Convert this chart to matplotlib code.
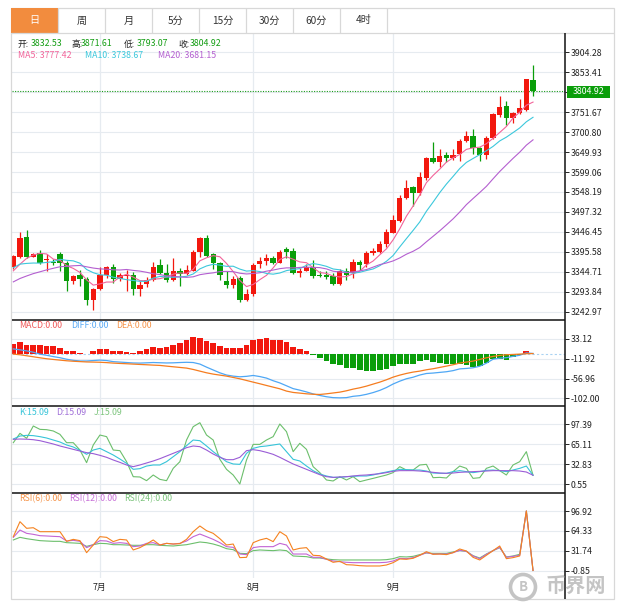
import matplotlib
matplotlib.use("Agg")
import matplotlib.pyplot as plt
from matplotlib.patches import Rectangle, Ellipse
from matplotlib.lines import Line2D
import numpy as np
import pandas as pd

plt.rcParams['font.family'] = ['Noto Sans CJK SC', 'DejaVu Sans']

W, H = 618, 613

# ---------------- data ----------------
tabs = ["日", "周", "月", "5分", "15分", "30分", "60分", "4时"]
month_pos = [13, 36, 57]
month_labels = ["7月", "8月", "9月"]

opens = [3355.7, 3383.6, 3433.7, 3383.6, 3392.3, 3375.5, 3370.9, 3389.7, 3368.4, 3321.8,
         3335.3, 3326.9, 3273.5, 3301.5, 3337.1, 3356.6, 3326.1, 3333.0, 3337.1, 3300.7,
         3313.4, 3322.6, 3362.5, 3342.9, 3322.6, 3347.3, 3339.6, 3348.0, 3396.3, 3432.0,
         3389.7, 3367.0, 3320.0, 3311.6, 3328.7, 3273.5, 3288.7, 3364.3, 3373.5, 3381.1,
         3368.4, 3403.2, 3398.1, 3341.4, 3348.0, 3356.6, 3337.1, 3337.1, 3334.5, 3313.4,
         3348.0, 3341.4, 3369.6, 3365.0, 3392.3, 3396.3, 3415.9, 3444.6, 3474.4, 3532.2,
         3561.7, 3544.9, 3583.0, 3635.4, 3623.7, 3642.3, 3633.9, 3644.1, 3678.7, 3690.6,
         3659.3, 3642.3, 3686.3, 3744.0, 3766.9, 3737.2, 3749.9, 3756.8, 3832.53]
highs = [3388.0, 3447.2, 3451.5, 3393.0, 3400.7, 3389.7, 3377.8, 3396.3, 3371.4, 3335.8,
         3349.8, 3332.0, 3304.0, 3358.2, 3360.7, 3364.3, 3342.9, 3349.8, 3344.7, 3320.0,
         3330.2, 3370.9, 3377.0, 3365.0, 3379.5, 3354.1, 3362.5, 3400.7, 3434.5, 3438.8,
         3392.3, 3370.9, 3345.5, 3332.8, 3332.8, 3301.5, 3366.8, 3383.6, 3390.5, 3385.4,
         3400.7, 3407.5, 3404.9, 3354.1, 3365.0, 3375.2, 3348.0, 3345.5, 3341.4, 3351.6,
         3354.1, 3377.8, 3375.2, 3398.1, 3404.9, 3423.6, 3453.3, 3489.7, 3540.6, 3578.7,
         3564.7, 3599.8, 3638.0, 3674.6, 3656.8, 3650.7, 3656.8, 3683.0, 3703.3, 3708.4,
         3663.4, 3690.6, 3748.4, 3793.1, 3779.7, 3753.0, 3784.7, 3837.4, 3871.61]
lows = [3352.0, 3381.0, 3380.3, 3381.6, 3364.3, 3348.0, 3362.5, 3347.0, 3294.6, 3313.4,
        3309.1, 3260.8, 3248.0, 3299.0, 3328.7, 3316.0, 3321.8, 3297.0, 3286.0, 3282.0,
        3307.0, 3321.8, 3338.9, 3318.5, 3320.5, 3309.1, 3337.1, 3345.5, 3383.6, 3382.9,
        3352.3, 3324.3, 3303.0, 3304.0, 3267.6, 3269.3, 3282.0, 3354.1, 3362.5, 3365.0,
        3366.3, 3379.5, 3339.6, 3330.2, 3345.5, 3328.7, 3330.2, 3326.1, 3311.6, 3311.6,
        3324.3, 3329.4, 3349.8, 3358.2, 3388.0, 3392.3, 3409.0, 3442.6, 3471.9, 3529.1,
        3512.6, 3541.8, 3580.0, 3623.0, 3612.5, 3625.3, 3629.6, 3627.0, 3675.4, 3644.8,
        3627.0, 3632.0, 3684.3, 3739.7, 3718.6, 3723.0, 3745.8, 3755.5, 3793.07]
closes = [3385.4, 3432.0, 3383.6, 3389.7, 3368.4, 3377.0, 3366.8, 3368.4, 3321.8, 3332.8,
          3326.1, 3271.7, 3301.5, 3337.1, 3356.6, 3326.1, 3337.1, 3335.8, 3300.7, 3311.6,
          3324.3, 3356.6, 3342.9, 3322.6, 3347.3, 3339.6, 3349.8, 3396.3, 3430.4, 3386.2,
          3367.0, 3335.3, 3311.6, 3326.1, 3273.5, 3288.7, 3362.5, 3372.7, 3381.1, 3368.4,
          3396.3, 3396.3, 3341.4, 3347.3, 3358.2, 3332.8, 3334.5, 3330.2, 3313.4, 3347.3,
          3337.1, 3370.9, 3362.5, 3392.3, 3398.1, 3415.9, 3447.2, 3477.0, 3533.7, 3559.1,
          3544.9, 3587.1, 3635.4, 3625.3, 3639.7, 3633.9, 3642.3, 3677.9, 3690.6, 3659.3,
          3642.3, 3686.3, 3746.6, 3765.1, 3735.6, 3749.9, 3761.1, 3835.6, 3804.92]
# closes before the visible window (estimated from where the MA lines start)
prior_closes = [3260, 3255, 3270, 3275, 3280, 3285, 3290, 3300, 3305, 3310,
                3340, 3365, 3380, 3370, 3360, 3347, 3309, 3347, 3347]

macd_hist = [20.8, 26.0, 20.0, 20.0, 18.5, 17.0, 16.2, 11.6, 4.8, 4.8,
             1.8, -2.1, 4.8, 9.3, 9.3, 5.5, 6.3, 4.0, 1.8, 4.8,
             9.3, 13.9, 12.3, 13.9, 18.5, 23.0, 29.9, 36.7, 35.9, 28.4,
             23.0, 16.2, 13.1, 13.1, 11.6, 20.0, 31.4, 33.7, 34.4, 31.4,
             31.4, 26.0, 14.7, 10.8, 4.8, -4.3, -10.4, -17.2, -24.9, -27.1,
             -32.5, -33.2, -37.8, -39.3, -40.8, -37.0, -34.8, -28.6, -24.9, -23.4,
             -24.9, -17.2, -15.8, -19.5, -21.8, -24.9, -24.9, -23.4, -27.1, -30.9,
             -28.6, -21.1, -11.9, -11.9, -14.2, -8.8, -4.3, 4.8, 0.0]
diff = [10.5, 8.5, 6.0, 3.0, -1.5, -4.0, -7.0, -9.5, -13.0, -15.5,
        -17.0, -17.0, -16.0, -15.0, -16.0, -18.5, -19.5, -20.5, -21.5, -21.8,
        -21.2, -20.5, -21.0, -21.5, -21.2, -20.5, -20.0, -20.5, -24.0, -31.0,
        -37.5, -44.0, -49.0, -51.5, -53.0, -52.0, -50.0, -52.5, -56.0, -62.0,
        -67.0, -73.5, -80.0, -83.5, -87.5, -92.0, -95.5, -98.5, -100.5, -101.0,
        -100.5, -97.5, -96.0, -93.0, -89.0, -84.0, -77.5, -69.5, -63.0, -57.5,
        -54.0, -49.0, -45.5, -44.5, -43.0, -41.5, -39.0, -35.0, -34.0, -32.5,
        -29.0, -22.0, -13.0, -10.5, -9.5, -6.5, -4.0, 1.5, 0.0]
dea = [-1.3, -2.8, -5.1, -7.4, -9.7, -11.9, -13.5, -15.0, -16.5, -17.6,
       -18.4, -19.2, -19.5, -19.9, -20.7, -21.8, -22.6, -23.3, -24.1, -24.9,
       -25.6, -26.4, -27.1, -28.7, -30.2, -31.7, -33.2, -36.3, -40.1, -43.9,
       -46.9, -49.2, -51.5, -54.5, -57.6, -61.4, -65.2, -68.9, -72.8, -76.6,
       -80.4, -85.6, -88.7, -90.2, -91.8, -92.9, -93.3, -91.8, -89.9, -88.0,
       -84.9, -81.1, -78.1, -74.3, -69.7, -65.2, -59.8, -53.8, -49.2, -45.4,
       -42.3, -40.1, -37.0, -34.7, -31.7, -28.7, -25.6, -21.8, -19.5, -17.3,
       -13.5, -9.7, -6.6, -4.3, -2.8, -2.1, -1.3, -0.5, 0.0]

k_line = [73.3, 78.1, 79.2, 78.7, 77.1, 74.9, 71.7, 68.5, 63.7, 60.5,
          55.1, 48.7, 55.6, 58.3, 53.0, 47.6, 41.2, 34.2, 24.6, 25.7,
          29.9, 31.6, 31.6, 36.9, 44.9, 53.0, 62.6, 71.7, 70.6, 62.1,
          53.0, 44.9, 36.9, 33.2, 32.6, 50.3, 58.3, 61.0, 62.1, 63.7,
          65.3, 53.0, 40.7, 38.0, 29.9, 22.4, 17.1, 13.9, 11.7, 11.7,
          12.8, 13.4, 13.9, 13.9, 15.5, 18.2, 20.3, 22.5, 24.6, 24.1,
          23.5, 23.5, 21.9, 18.7, 18.2, 18.2, 20.9, 22.5, 20.9, 19.3,
          20.9, 23.0, 23.5, 22.5, 20.9, 23.5, 26.2, 29.9, 15.09]
d_line = [72.8, 73.3, 73.0, 72.2, 70.6, 68.0, 65.3, 62.1, 59.4, 56.7,
          54.0, 51.4, 49.8, 47.1, 43.9, 39.6, 35.8, 31.6, 28.9, 31.6,
          34.8, 38.0, 41.7, 46.0, 50.3, 54.6, 59.4, 62.1, 61.0, 55.6,
          49.2, 43.9, 40.1, 40.1, 43.9, 54.6, 56.2, 54.6, 51.9, 48.7,
          43.9, 38.5, 33.2, 28.9, 24.6, 20.3, 16.0, 12.8, 11.7, 12.3,
          12.8, 13.9, 15.0, 15.5, 16.6, 17.6, 19.3, 21.4, 22.5, 22.5,
          22.5, 21.9, 20.9, 19.8, 18.7, 18.2, 18.7, 19.8, 20.3, 20.9,
          21.4, 21.9, 22.5, 22.5, 22.5, 22.5, 21.9, 20.3, 15.09]
j_line = [67.4, 82.4, 74.4, 94.2, 88.8, 88.3, 86.2, 80.8, 67.4, 67.4,
          55.6, 35.3, 63.7, 79.7, 77.1, 55.6, 54.6, 36.9, 12.8, 12.3,
          6.4, 15.5, 8.5, 6.4, 26.2, 36.9, 71.7, 93.1, 99.5, 79.7,
          71.7, 40.7, 24.6, 15.5, 1.0, 39.6, 64.7, 64.7, 71.7, 77.1,
          97.4, 85.1, 53.0, 66.4, 56.7, 28.9, 19.3, 7.5, 5.9, 12.8,
          7.5, 12.8, 4.8, 7.5, 10.1, 12.8, 15.5, 19.3, 28.9, 23.5,
          23.5, 31.6, 32.6, 11.2, 11.7, 10.7, 20.9, 29.9, 26.2, 10.1,
          11.2, 26.2, 29.9, 22.5, 15.5, 31.6, 36.9, 53.0, 15.09]

rsi6 = [55.1, 79.5, 68.7, 69.7, 63.2, 63.2, 63.2, 63.2, 47.5, 50.7,
        48.6, 29.0, 41.5, 55.1, 54.0, 47.0, 50.7, 49.7, 33.4, 37.2,
        43.1, 49.7, 41.5, 44.2, 43.1, 43.7, 50.7, 63.2, 72.5, 64.9,
        60.5, 51.8, 41.5, 43.1, 20.9, 21.4, 45.3, 49.7, 52.4, 47.0,
        63.2, 56.2, 33.4, 36.1, 37.2, 24.7, 24.1, 18.7, 13.3, 14.9,
        9.4, 8.9, 7.8, 7.3, 7.3, 7.3, 8.9, 12.7, 18.7, 18.2,
        19.8, 24.7, 30.6, 26.3, 26.8, 25.8, 29.0, 35.0, 31.7, 21.4,
        17.1, 24.7, 32.3, 39.9, 19.2, 20.9, 23.6, 97.0, 0.0]
rsi12 = [54.0, 65.9, 60.5, 58.9, 56.7, 56.2, 55.6, 55.1, 48.0, 49.1,
         47.5, 37.2, 42.0, 48.6, 48.0, 44.2, 45.3, 44.2, 38.8, 39.9,
         44.2, 45.3, 41.5, 44.2, 43.1, 44.2, 48.0, 55.1, 59.4, 55.1,
         50.7, 45.3, 38.8, 37.7, 26.8, 25.8, 37.2, 38.8, 38.8, 38.8,
         44.2, 41.5, 26.8, 26.8, 26.8, 21.4, 21.4, 18.2, 15.4, 14.3,
         13.3, 12.7, 12.7, 12.7, 12.7, 12.7, 13.3, 15.4, 19.8, 19.2,
         20.9, 24.7, 29.0, 26.8, 26.8, 26.8, 29.0, 32.8, 31.2, 23.6,
         19.2, 26.3, 32.3, 37.7, 21.4, 23.0, 24.7, 97.0, 0.0]
rsi24 = [49.7, 54.0, 51.8, 50.2, 48.6, 48.0, 47.5, 47.5, 45.3, 44.8,
         44.2, 39.3, 42.0, 44.2, 43.7, 42.0, 42.0, 41.5, 41.0, 41.0,
         42.0, 42.0, 41.0, 40.4, 39.9, 41.0, 42.0, 44.2, 46.4, 45.3,
         43.1, 39.9, 35.5, 33.9, 27.9, 27.4, 32.3, 33.4, 32.8, 32.3,
         33.4, 32.3, 23.6, 23.0, 22.5, 20.3, 20.3, 18.7, 17.6, 17.1,
         17.1, 17.1, 17.1, 17.1, 17.1, 17.1, 17.6, 19.2, 22.5, 22.0,
         23.0, 25.8, 28.5, 27.9, 27.9, 27.9, 30.1, 32.3, 31.2, 24.1,
         20.3, 26.8, 32.3, 37.2, 22.0, 23.6, 26.3, 97.0, 0.0]

price_ticks = [3904.28, 3853.41, 3802.54, 3751.67, 3700.80, 3649.93, 3599.06,
               3548.19, 3497.32, 3446.45, 3395.58, 3344.71, 3293.84, 3242.97]
macd_ticks = [33.12, -11.92, -56.96, -102.00]
kdj_ticks = [97.39, 65.11, 32.83, 0.55]
rsi_ticks = [96.92, 64.33, 31.74, -0.85]
last_price = 3804.92

# ---------------- colours ----------------
UP = '#f2180e'
DOWN = '#0a9e0a'
C_MA5, C_MA10, C_MA20 = '#f2649a', '#3cc8dc', '#b45fd0'
C_DIFF, C_DEA = '#4ea7f5', '#f57c1f'
C_K, C_D, C_J = '#36c4d8', '#9a5cd6', '#6cbf6c'
C_R6, C_R12, C_R24 = '#f5821f', '#c264d4', '#6cbf6c'
GRID = '#e6ebf0'
FONT = 6.3

# ---------------- figure ----------------
fig = plt.figure(figsize=(W / 100, H / 100), dpi=100)
fig.patch.set_facecolor('white')


def rect(x0, y0, x1, y1):
    return [x0 / W, 1 - y1 / H, (x1 - x0) / W, (y1 - y0) / H]


def fline(x0, y0, x1, y1, color, lw, z=20):
    fig.add_artist(Line2D([x0 / W, x1 / W], [1 - y0 / H, 1 - y1 / H],
                          color=color, lw=lw, zorder=z, solid_capstyle='butt'))


def ftext(x, y, s, color='#222', size=FONT, ha='left', **kw):
    fig.text(x / W, 1 - y / H, s, color=color, fontsize=size, ha=ha, va='center', **kw)


PL, PR = 12, 565
ax_main = fig.add_axes(rect(PL, 33, PR, 320))
ax_macd = fig.add_axes(rect(PL, 320, PR, 405.7))
ax_kdj = fig.add_axes(rect(PL, 405.7, PR, 492.5))
ax_rsi = fig.add_axes(rect(PL, 492.5, PR, 578))

n = len(closes)
x = np.arange(n)
XL = (-0.195, 82.8)

panels = [(ax_main, price_ticks, (3221.8, 3953.6)),
          (ax_macd, macd_ticks, (-118.9, 76.4)),
          (ax_kdj, kdj_ticks, (-12.6, 126.8)),
          (ax_rsi, rsi_ticks, (-12.3, 127.1))]
for ax, ticks, yl in panels:
    ax.set_xlim(*XL)
    ax.set_ylim(*yl)
    for s in ax.spines.values():
        s.set_visible(False)
    ax.set_facecolor('none')
    ax.yaxis.tick_right()
    ax.set_yticks(ticks)
    labels = ['%.2f' % t for t in ticks]
    if ax is ax_main:
        labels[2] = ''
    ax.set_yticklabels(labels)
    ax.tick_params(axis='y', direction='out', length=3, width=0.7, colors='#222',
                   labelsize=FONT, pad=1.2)
    ax.tick_params(axis='x', length=0, labelbottom=False)
    ax.set_xticks([])
    for t in ticks:
        ax.axhline(t, color=GRID, lw=0.8, zorder=0)
    for m in month_pos:
        ax.axvline(m, color=GRID, lw=0.9, zorder=0)

# ---- candles ----
o = np.array(opens); c = np.array(closes); h = np.array(highs); l = np.array(lows)
up = c >= o
cols = np.where(up, UP, DOWN)
ax_main.vlines(x, l, h, colors=cols, lw=0.9, zorder=2)
body_bottom = np.minimum(o, c)
body_h = np.maximum(np.abs(c - o), 1.6)
ax_main.bar(x, body_h, bottom=body_bottom, width=0.8, color=cols, linewidth=0, zorder=2.5)

allc = pd.Series(prior_closes + closes)
ma5 = allc.rolling(5).mean().values[-n:]
ma10 = allc.rolling(10).mean().values[-n:]
ma20 = allc.rolling(20).mean().values[-n:]
ax_main.plot(x, ma5, color=C_MA5, lw=0.8, zorder=3)
ax_main.plot(x, ma10, color=C_MA10, lw=0.8, zorder=3)
ax_main.plot(x, ma20, color=C_MA20, lw=0.8, zorder=3)
ax_main.axhline(last_price, color='#1a9a1a', lw=0.8, ls=(0, (1, 1.3)), zorder=1.5)

# ---- MACD ----
mh = np.array(macd_hist)
ax_macd.axhline(0, color='#a9d2f2', lw=0.8, ls=(0, (2, 2)), zorder=1)
ax_macd.bar(x, mh, width=0.86, color=np.where(mh >= 0, UP, DOWN), linewidth=0, zorder=2)
ax_macd.plot(x, diff, color=C_DIFF, lw=0.9, zorder=3)
ax_macd.plot(x, dea, color=C_DEA, lw=0.9, zorder=3)

# ---- KDJ ----
ax_kdj.plot(x, j_line, color=C_J, lw=0.8, zorder=2)
ax_kdj.plot(x, k_line, color=C_K, lw=0.8, zorder=3)
ax_kdj.plot(x, d_line, color=C_D, lw=0.8, zorder=3)

# ---- RSI ----
ax_rsi.plot(x, rsi24, color=C_R24, lw=0.8, zorder=2)
ax_rsi.plot(x, rsi12, color=C_R12, lw=0.8, zorder=3)
ax_rsi.plot(x, rsi6, color=C_R6, lw=0.8, zorder=4)

for m, lab in zip(month_pos, month_labels):
    ax_rsi.annotate(lab, xy=(m, 0), xycoords=('data', 'axes fraction'),
                    xytext=(0, -6.6), textcoords='offset points',
                    ha='center', va='center', fontsize=FONT, color='#222')

# ---------------- frame, tabs, separators ----------------
fig.add_artist(Rectangle((11 / W, 1 - 599 / H), (614 - 11) / W, (599 - 8) / H,
                         transform=fig.transFigure, fill=False, ec='#d8d8d8', lw=0.9, zorder=1))
fig.add_artist(Rectangle((11 / W, 1 - 32.5 / H), (58 - 11) / W, (32.5 - 8) / H,
                         transform=fig.transFigure, fc='#f28c3e', ec='none', zorder=2))
fline(11, 32.5, 614, 32.5, '#d8d8d8', 0.9)
tab_edges = [11, 58, 105, 152, 199, 246, 293, 340, 387]
for xe in tab_edges[1:]:
    fline(xe, 8, xe, 32.5, '#d8d8d8', 0.9)
for i, t in enumerate(tabs):
    cx = (tab_edges[i] + tab_edges[i + 1]) / 2
    ftext(cx, 20.5, t, color='white' if i == 0 else '#333', size=7.3, ha='center', zorder=5)

fline(PR, 32.5, PR, 599, '#111', 1.1)
for yy in (320, 405.7, 492.5):
    fline(PL, yy, PR, yy, '#111', 1.1)

# current price box
fig.add_artist(Rectangle((566.5 / W, 1 - 97.5 / H), 43.5 / W, 11.5 / H,
                         transform=fig.transFigure, fc=DOWN, ec='none', zorder=30))
ftext(588.2, 91.7, '%.2f' % last_price, color='white', ha='center', zorder=31)

# ---------------- header texts ----------------
hdr = [("开:", 18, '%.2f' % opens[-1], 31), ("高:", 71, '%.2f' % highs[-1], 81),
       ("低:", 124, '%.2f' % lows[-1], 136.5), ("收:", 178, '%.2f' % closes[-1], 190)]
for lab, lx, val, vx in hdr:
    ftext(lx, 44, lab, color='#222')
    ftext(vx, 44, val, color='#139d13')
ftext(18, 55.5, 'MA5: %.2f' % ma5[-1], color=C_MA5)
ftext(85, 55.5, 'MA10: %.2f' % ma10[-1], color=C_MA10)
ftext(158, 55.5, 'MA20: %.2f' % ma20[-1], color=C_MA20)

ftext(19, 326, 'MACD:%.2f' % macd_hist[-1], color='#f05a5a')
ftext(71, 326, 'DIFF:%.2f' % diff[-1], color='#5aaaf5')
ftext(116, 326, 'DEA:%.2f' % dea[-1], color='#f5944a')

ftext(19, 412.3, 'K:%.2f' % k_line[-1], color=C_K)
ftext(56, 412.3, 'D:%.2f' % d_line[-1], color='#a070d8')
ftext(94, 412.3, 'J:%.2f' % j_line[-1], color='#7cc47c')

ftext(19, 499, 'RSI(6):%.2f' % rsi6[-1], color='#f5944a')
ftext(69, 499, 'RSI(12):%.2f' % rsi12[-1], color='#c870d8')
ftext(124, 499, 'RSI(24):%.2f' % rsi24[-1], color='#7cc47c')

# ---------------- watermark ----------------
fig.add_artist(Ellipse((523 / W, 1 - 587 / H), 25 / W, 25 / H, transform=fig.transFigure,
                       fill=False, ec='#c4c4c4', lw=2.6, zorder=25))
ftext(523, 587, 'B', color='#c4c4c4', size=9.5, ha='center', fontweight='bold', zorder=25)
ftext(576, 586.5, '币界网', color='#c4c4c4', size=14.5, ha='center', fontweight='bold', zorder=25)

fig.savefig('out.png', dpi=100, facecolor='white')
